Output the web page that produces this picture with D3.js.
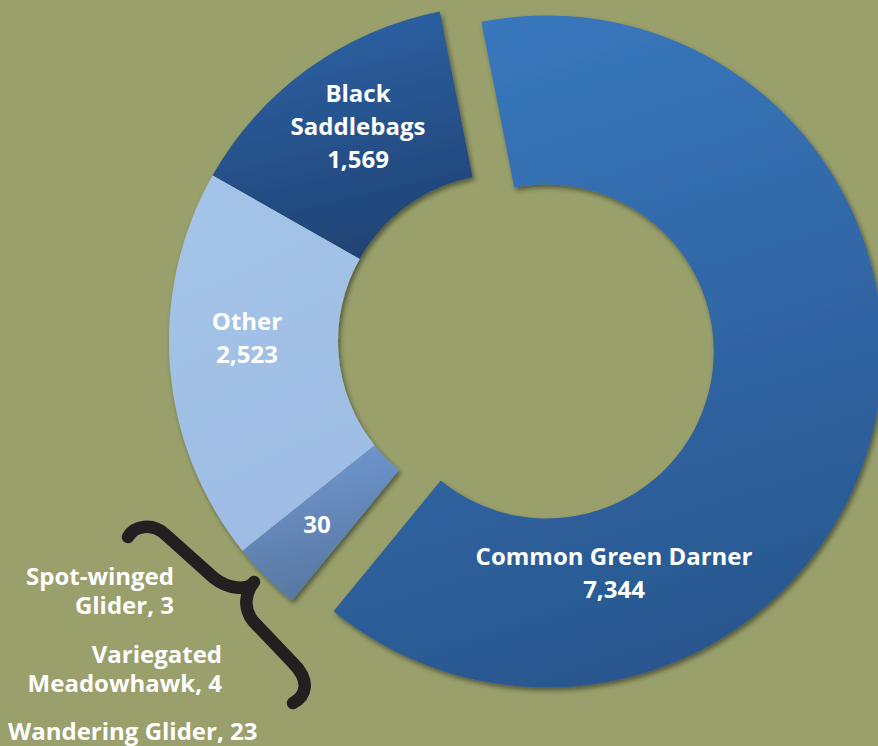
<!DOCTYPE html>
<html>
<head>
<meta charset="utf-8">
<script src="https://cdn.jsdelivr.net/npm/d3@7"></script>
<style>
  html, body { margin: 0; padding: 0; background: #99a06b; }
  svg { display: block; }
  text { font-family: "Open Sans", "DejaVu Sans", sans-serif; font-weight: 700; fill: #ffffff; }
</style>
</head>
<body>
<svg id="chart" width="878" height="746"></svg>
<script>
// ---- data ----
const categories   = ["Common Green Darner", "Small species", "Other", "Black Saddlebags"];
const counts       = [7344, 30, 2523, 1569];
// angular weights of the slices as drawn in the picture (the small slice is enlarged for visibility)
const arcWeights   = [7344, 382, 2171, 1569];
const sliceLabels  = [["Common Green Darner", "7,344"], ["30"], ["Other", "2,523"], ["Black", "Saddlebags", "1,569"]];
const exploded     = [true, false, false, false];
const smallSpecies = ["Spot-winged Glider", "Variegated Meadowhawk", "Wandering Glider"];
const smallCounts  = [3, 4, 23];

// ---- layout / style ----
const W = 878, H = 746;
const cx = 505, cy = 341, rIn = 167, rOut = 336, explodeDist = 43;
const startDeg = -11.2;
const gradColors = [["#3877bd", "#29568e"], ["#7199d1", "#56759f"], ["#a4c3e8", "#9fbde4"], ["#2e62a5", "#1f4374"]];
const labelPos = [[614, 565], [317, 533], [247, 330], [358, 102]];
const lineGap = 33;

const svg = d3.select("#chart");
svg.append("rect").attr("width", W).attr("height", H).attr("fill", "#99a06b");

const defs = svg.append("defs");
const f = defs.append("filter").attr("id", "shadow").attr("x", "-10%").attr("y", "-10%").attr("width", "130%").attr("height", "130%");
f.append("feDropShadow").attr("dx", 2).attr("dy", 3).attr("stdDeviation", 2.5)
  .attr("flood-color", "#000").attr("flood-opacity", 0.45);

gradColors.forEach((c, i) => {
  const g = defs.append("linearGradient").attr("id", "grad" + i)
    .attr("x1", 0.3).attr("y1", 0).attr("x2", 0.55).attr("y2", 1);
  g.append("stop").attr("offset", "0%").attr("stop-color", c[0]);
  g.append("stop").attr("offset", "100%").attr("stop-color", c[1]);
});

const rad = Math.PI / 180;
const pie = d3.pie().sort(null).value(d => d.w)
  .startAngle(startDeg * rad).endAngle(startDeg * rad + 2 * Math.PI);
const arc = d3.arc().innerRadius(rIn).outerRadius(rOut);

const data = categories.map((c, i) => ({ name: c, count: counts[i], w: arcWeights[i], ex: exploded[i], i }));
const arcs = pie(data);

const g = svg.append("g").attr("transform", `translate(${cx},${cy})`).attr("filter", "url(#shadow)");
g.selectAll("path").data(arcs).join("path")
  .attr("d", arc)
  .attr("fill", d => `url(#grad${d.data.i})`)
  .attr("transform", d => {
    if (!d.data.ex) return null;
    const m = (d.startAngle + d.endAngle) / 2;
    return `translate(${Math.sin(m) * explodeDist},${-Math.cos(m) * explodeDist})`;
  });

// slice labels
const fs = 24;
arcs.forEach((d, i) => {
  const lines = sliceLabels[i];
  const [lx, ly] = labelPos[i];
  const t = svg.append("text").attr("text-anchor", "middle").attr("font-size", fs);
  lines.forEach((ln, k) => t.append("tspan").attr("x", lx).attr("y", ly + k * lineGap).text(ln));
});

// small-species annotations (right aligned)
const fmt = d3.format(",");
const annos = [
  { lines: ["Spot-winged", "Glider, " + fmt(smallCounts[0])], x: 174, y: 585, anchor: "end" },
  { lines: ["Variegated", "Meadowhawk, " + fmt(smallCounts[1])], x: 222, y: 663, anchor: "end" },
  { lines: ["Wandering Glider, " + fmt(smallCounts[2])], x: 8, y: 740, anchor: "start" }
];
annos.forEach(a => {
  const t = svg.append("text").attr("text-anchor", a.anchor).attr("font-size", fs);
  a.lines.forEach((ln, k) => t.append("tspan").attr("x", a.x).attr("y", a.y + k * 28.5).text(ln));
});

// curly brace
svg.append("path")
  .attr("d", "M128,537 C134,526 152,522 166,535 L214,578 C228,589 247,591 254,582 C245,593 243,608 253,621 L293,663 C311,681 306,696 293,703")
  .attr("fill", "none").attr("stroke", "#231f20").attr("stroke-width", 12.5)
  .attr("stroke-linecap", "round").attr("stroke-linejoin", "round");
</script>
</body>
</html>
